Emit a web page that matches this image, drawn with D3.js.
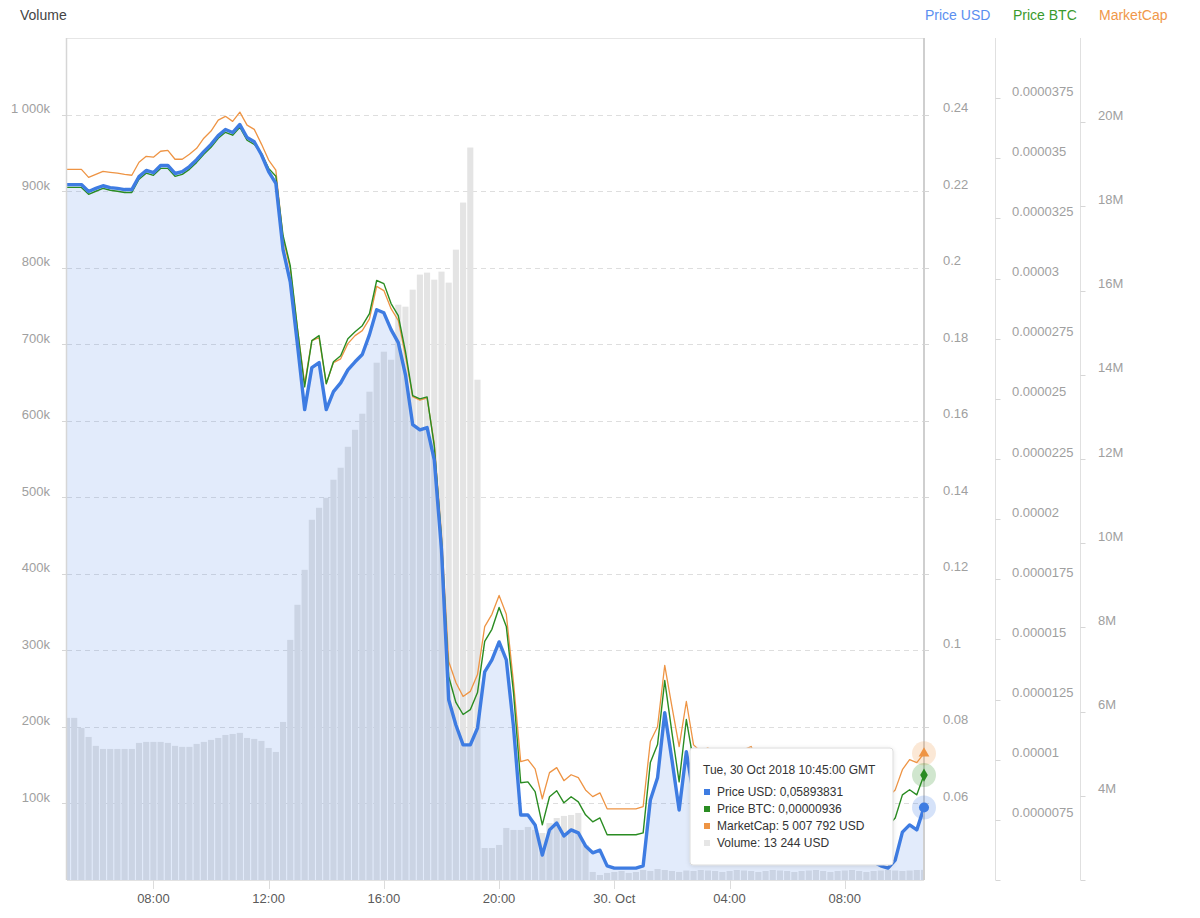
<!DOCTYPE html>
<html><head><meta charset="utf-8">
<script src="https://cdn.jsdelivr.net/npm/d3@7"></script>
<style>
html,body{margin:0;padding:0;background:#fff;}
svg{display:block;font-family:"Liberation Sans",Arial,Helvetica,sans-serif;}
</style></head><body>
<svg id="chart" width="1200" height="918"></svg>
<script>
// ---- data (15-minute steps starting 29 Oct 2018 05:00 GMT) ----
const startTime = "2018-10-29T05:00:00Z";
const stepMinutes = 15;

const priceUsd = [
 0.2217,0.2217,0.2217,0.2199,0.2207,0.2214,0.2209,0.2207,0.2204,0.2204,
 0.2238,0.2254,0.2248,0.2267,0.2267,0.2246,0.2251,0.2264,0.2282,0.2303,
 0.2322,0.2345,0.2361,0.2353,0.2374,0.2340,0.2329,0.2295,0.2251,0.2220,
 0.2047,0.1963,0.1799,0.1629,0.1739,0.1752,0.1629,0.1676,0.1699,0.1733,
 0.1754,0.1773,0.1825,0.1890,0.1882,0.1838,0.1804,0.1720,0.1590,0.1576,
 0.1582,0.1498,0.1263,0.0871,0.0805,0.0753,0.0753,0.0797,0.0944,0.0975,
 0.1022,0.0975,0.0800,0.0570,0.0570,0.0544,0.0465,0.0531,0.0549,0.0515,
 0.0531,0.0523,0.0489,0.0471,0.0478,0.0437,0.0431,0.0431,0.0431,0.0431,
 0.0437,0.0609,0.0667,0.0837,0.0714,0.0583,0.0735,0.0622,0.0578,0.0593,
 0.0562,0.0570,0.0552,0.0567,0.0583,0.0593,0.0557,0.0541,0.0525,0.0515,
 0.0520,0.0505,0.0510,0.0497,0.0489,0.0492,0.0478,0.0484,0.0473,0.0468,
 0.0465,0.0458,0.0447,0.0437,0.0431,0.0452,0.0525,0.0544,0.0531,0.05893831];

const priceBtc = [
 33.79e-6,33.79e-6,33.79e-6,33.50e-6,33.63e-6,33.75e-6,33.67e-6,33.63e-6,33.58e-6,33.58e-6,
 34.13e-6,34.38e-6,34.29e-6,34.58e-6,34.58e-6,34.25e-6,34.33e-6,34.54e-6,34.83e-6,35.17e-6,
 35.46e-6,35.83e-6,36.08e-6,35.96e-6,36.29e-6,35.75e-6,35.58e-6,35.21e-6,34.58e-6,34.25e-6,
 31.79e-6,30.54e-6,27.92e-6,25.50e-6,27.42e-6,27.63e-6,25.63e-6,26.54e-6,26.79e-6,27.50e-6,
 27.79e-6,28.04e-6,28.54e-6,29.92e-6,29.79e-6,28.96e-6,28.46e-6,26.96e-6,25.13e-6,25.00e-6,
 25.08e-6,23.04e-6,19.17e-6,13.46e-6,12.38e-6,11.88e-6,12.08e-6,12.79e-6,14.92e-6,15.42e-6,
 16.33e-6,15.54e-6,12.79e-6,9.04e-6,9.08e-6,8.67e-6,7.29e-6,8.46e-6,8.71e-6,8.21e-6,
 8.46e-6,8.25e-6,7.71e-6,7.42e-6,7.58e-6,6.88e-6,6.88e-6,6.88e-6,6.88e-6,6.88e-6,
 6.96e-6,9.88e-6,10.63e-6,13.29e-6,11.13e-6,9.08e-6,11.67e-6,9.92e-6,9.21e-6,9.46e-6,
 8.96e-6,9.17e-6,8.79e-6,9.04e-6,9.29e-6,9.46e-6,8.88e-6,8.63e-6,8.38e-6,8.21e-6,
 8.29e-6,8.04e-6,8.13e-6,7.92e-6,7.79e-6,7.83e-6,7.63e-6,7.71e-6,7.54e-6,7.46e-6,
 7.42e-6,7.33e-6,7.25e-6,7.25e-6,7.25e-6,7.58e-6,8.54e-6,8.75e-6,8.54e-6,9.36e-6];

const marketCap = [
 18.88e6,18.88e6,18.88e6,18.69e6,18.76e6,18.83e6,18.81e6,18.79e6,18.76e6,18.74e6,
 19.05e6,19.19e6,19.17e6,19.31e6,19.33e6,19.12e6,19.12e6,19.24e6,19.38e6,19.62e6,
 19.79e6,20.05e6,20.14e6,20.02e6,20.24e6,19.93e6,19.83e6,19.48e6,19.10e6,18.86e6,
 17.24e6,16.52e6,15.10e6,13.79e6,14.81e6,14.88e6,13.79e6,14.29e6,14.38e6,14.74e6,
 14.93e6,15.05e6,15.33e6,16.10e6,16.00e6,15.57e6,15.29e6,14.45e6,13.48e6,13.40e6,
 13.45e6,12.36e6,10.21e6,7.19e6,6.69e6,6.36e6,6.48e6,6.88e6,8.02e6,8.31e6,
 8.76e6,8.31e6,6.69e6,4.81e6,4.86e6,4.64e6,3.93e6,4.55e6,4.67e6,4.36e6,
 4.50e6,4.43e6,4.14e6,3.98e6,4.07e6,3.69e6,3.69e6,3.69e6,3.69e6,3.69e6,
 3.74e6,5.29e6,5.64e6,7.10e6,6.12e6,5.17e6,6.24e6,5.21e6,5.05e6,5.14e6,
 4.90e6,4.98e6,4.86e6,4.98e6,5.10e6,5.17e6,4.81e6,4.67e6,4.55e6,4.43e6,
 4.48e6,4.36e6,4.40e6,4.29e6,4.21e6,4.24e6,4.14e6,4.19e6,4.10e6,4.05e6,
 4.02e6,4.00e6,3.98e6,3.98e6,3.98e6,4.14e6,4.62e6,4.86e6,4.79e6,5007792];

const volume = [
 211.8e3,211.8e3,198.7e3,186.9e3,175.2e3,171.2e3,171.2e3,171.2e3,171.2e3,171.2e3,
 179.1e3,180.4e3,180.4e3,180.4e3,179.1e3,175.2e3,173.9e3,173.9e3,177.8e3,180.4e3,
 183.0e3,185.6e3,189.5e3,190.8e3,192.2e3,185.6e3,184.3e3,181.7e3,172.5e3,167.3e3,
 206.5e3,313.7e3,359.5e3,405.2e3,470.6e3,486.3e3,499.3e3,522.9e3,538.6e3,566.0e3,
 588.2e3,609.2e3,637.9e3,675.8e3,690.2e3,679.7e3,751.6e3,749.0e3,771.2e3,790.9e3,
 793.5e3,784.3e3,794.8e3,780.4e3,823.5e3,885.0e3,956.9e3,653.6e3,41.8e3,41.8e3,
 45.8e3,68.0e3,65.4e3,65.4e3,69.3e3,65.4e3,61.4e3,74.5e3,81.0e3,83.7e3,
 85.0e3,87.6e3,45.8e3,10.5e3,6.5e3,9.2e3,10.5e3,11.8e3,9.2e3,10.5e3,
 13.1e3,11.8e3,14.4e3,13.1e3,11.8e3,10.5e3,12.4e3,11.8e3,13.1e3,12.4e3,
 11.8e3,10.5e3,11.8e3,13.1e3,12.4e3,11.8e3,10.5e3,11.8e3,13.1e3,12.4e3,
 11.8e3,10.5e3,11.8e3,12.4e3,13.1e3,11.8e3,10.5e3,11.8e3,12.4e3,13.1e3,
 11.8e3,10.5e3,11.8e3,12.4e3,13.1e3,12.4e3,11.8e3,12.4e3,13.1e3,13244];

const volumeTicks = [100e3,200e3,300e3,400e3,500e3,600e3,700e3,800e3,900e3,1000e3];
const usdTicks = [0.06,0.08,0.1,0.12,0.14,0.16,0.18,0.2,0.22,0.24];
const btcTicks = [0.000005,0.0000075,0.00001,0.0000125,0.000015,0.0000175,0.00002,0.0000225,0.000025,0.0000275,0.00003,0.0000325,0.000035,0.0000375];
const btcTickLabels = ["","0.0000075","0.00001","0.0000125","0.000015","0.0000175","0.00002","0.0000225","0.000025","0.0000275","0.00003","0.0000325","0.000035","0.0000375"];
const mcapTicks = [2e6,4e6,6e6,8e6,10e6,12e6,14e6,16e6,18e6,20e6];
const seriesNames = ["Price USD","Price BTC","MarketCap","Volume"];
const tooltipTitle = "Tue, 30 Oct 2018 10:45:00 GMT";

// ---- layout ----
const L = 67, R = 924, T = 38, B = 880;
const C = {usd:"#3e7ce2", btc:"#2a8c22", mcap:"#ee9444", vol:"#e4e4e4",
           usdLbl:"#5b8ff0", btcLbl:"#3a9a2c", mcapLbl:"#f0984a"};

const t0 = new Date(startTime);
const times = priceUsd.map((d,i)=> new Date(t0.getTime() + i*stepMinutes*60000));

const svg = d3.select("#chart");
const x = d3.scaleUtc().domain([times[0], times[times.length-1]]).range([L, R]);
const yVol = d3.scaleLinear().domain([0, 1100e3]).range([B, T]);
const yUsd = d3.scaleLinear().domain([0.04, 0.26]).range([B, T]);
const yBtc = d3.scaleLinear().domain([0.000005, 0.00004]).range([B, T]);
const yMcap = d3.scaleLinear().domain([2e6, 22e6]).range([B, T]);

const defs = svg.append("defs");
defs.append("clipPath").attr("id","plot")
  .append("rect").attr("x",L).attr("y",T).attr("width",R-L).attr("height",B-T);
const shadow = defs.append("filter").attr("id","shadow")
  .attr("x","-10%").attr("y","-10%").attr("width","130%").attr("height","140%");
shadow.append("feDropShadow").attr("dx",0).attr("dy",1).attr("stdDeviation",2)
  .attr("flood-color","#000").attr("flood-opacity",0.12);

// frame
svg.append("line").attr("x1",L).attr("x2",R).attr("y1",T+0.5).attr("y2",T+0.5).attr("stroke","#e6e6e6");

// grid lines (volume ticks)
svg.append("g").selectAll("line").data(volumeTicks).join("line")
  .attr("x1",L).attr("x2",R+5).attr("y1",d=>Math.round(yVol(d))+0.5).attr("y2",d=>Math.round(yVol(d))+0.5)
  .attr("stroke","#dedede").attr("stroke-dasharray","5,4");

// volume columns
const colW = (x(times[1]) - x(times[0])) - 1.1;
svg.append("g").attr("clip-path","url(#plot)").selectAll("rect").data(volume).join("rect")
  .attr("x",(d,i)=> x(times[i]) - colW/2)
  .attr("width",colW)
  .attr("y",d=>yVol(d))
  .attr("height",d=>B - yVol(d))
  .attr("fill",C.vol);

// price usd area
svg.append("path").datum(priceUsd)
  .attr("clip-path","url(#plot)")
  .attr("d", d3.area().x((d,i)=>x(times[i])).y0(B).y1(d=>yUsd(d)))
  .attr("fill", C.usd).attr("fill-opacity",0.15);

// lines
function line(data, yS, color, w){
  svg.append("path").datum(data)
    .attr("d", d3.line().x((d,i)=>x(times[i])).y(d=>yS(d)))
    .attr("fill","none").attr("stroke",color).attr("stroke-width",w)
    .attr("stroke-linejoin","round");
}
line(marketCap, yMcap, C.mcap, 1.3);
line(priceBtc, yBtc, C.btc, 1.4);
line(priceUsd, yUsd, C.usd, 3.4);

// left axis
svg.append("line").attr("x1",L-0.5).attr("x2",L-0.5).attr("y1",T).attr("y2",B).attr("stroke","#d6d6d6").attr("stroke-width",1.5);
const vFmt = d=> d>=1e6 ? "1 000k" : (d/1000)+"k";
const gl = svg.append("g");
gl.selectAll("line").data(volumeTicks).join("line")
  .attr("x1",L-5).attr("x2",L).attr("y1",d=>Math.round(yVol(d))+0.5).attr("y2",d=>Math.round(yVol(d))+0.5).attr("stroke","#d6d6d6");
gl.selectAll("text").data(volumeTicks).join("text")
  .attr("x",50).attr("y",d=>yVol(d)-6).attr("dy","0.35em").attr("text-anchor","end")
  .attr("font-size",13).attr("fill","#a0a0a0").text(vFmt);

// bottom axis
svg.append("line").attr("x1",L).attr("x2",R).attr("y1",B+0.5).attr("y2",B+0.5).attr("stroke","#e2e2e2");
const xt = x.ticks(d3.utcHour.every(4));
const xFmt = d=> (d.getUTCHours()===0 ? d3.utcFormat("%-d. %b")(d) : d3.utcFormat("%H:%M")(d));
const gx = svg.append("g");
gx.selectAll("line").data(xt).join("line")
  .attr("x1",d=>Math.round(x(d))+0.5).attr("x2",d=>Math.round(x(d))+0.5).attr("y1",B).attr("y2",B+9).attr("stroke","#dcdcdc");
gx.selectAll("text").data(xt).join("text")
  .attr("x",d=>x(d)).attr("y",898).attr("dy","0.35em").attr("text-anchor","middle")
  .attr("font-size",13).attr("fill","#5a5a5a").text(xFmt);

// right axes
function rightAxis(ax, scale, ticks, labels, labelX, color, w){
  svg.append("line").attr("x1",ax).attr("x2",ax).attr("y1",T).attr("y2",B).attr("stroke",color).attr("stroke-width",w);
  const g = svg.append("g");
  g.selectAll("line").data(ticks).join("line")
    .attr("x1",ax).attr("x2",ax+5).attr("y1",d=>Math.round(scale(d))+0.5).attr("y2",d=>Math.round(scale(d))+0.5).attr("stroke","#d6d6d6");
  g.selectAll("text").data(ticks).join("text")
    .attr("x",labelX).attr("y",d=>scale(d)-7).attr("dy","0.35em")
    .attr("font-size",13).attr("fill","#a0a0a0").text((d,i)=>labels[i]);
}
rightAxis(R, yUsd, usdTicks, usdTicks.map(d=>String(d)), 943, "#cfcfcf", 2);
rightAxis(995.5, yBtc, btcTicks, btcTickLabels, 1012, "#e0e0e0", 1);
rightAxis(1080.5, yMcap, mcapTicks, mcapTicks.map(d=> d===2e6 ? "" : (d/1e6)+"M"), 1098, "#e0e0e0", 1);

// headers
svg.append("text").attr("x",20).attr("y",15).attr("dy","0.35em").attr("font-size",14).attr("fill","#444").text("Volume");
const heads = [[925,seriesNames[0],C.usdLbl],[1013,seriesNames[1],C.btcLbl],[1099,seriesNames[2],C.mcapLbl]];
svg.append("g").selectAll("text").data(heads).join("text")
  .attr("x",d=>d[0]).attr("y",15).attr("dy","0.35em").attr("font-size",14).attr("fill",d=>d[2]).text(d=>d[1]);

// hover markers at last point
const li = priceUsd.length-1, hx = x(times[li]);
const pts = [[yMcap(marketCap[li]),C.mcap,"tri"],[yBtc(priceBtc[li]),C.btc,"dia"],[yUsd(priceUsd[li]),C.usd,"cir"]];
pts.forEach(([py,col,shape])=>{
  svg.append("circle").attr("cx",hx).attr("cy",py).attr("r",12).attr("fill",col).attr("fill-opacity",0.22);
  const sym = shape==="tri"? d3.symbolTriangle : shape==="dia"? d3.symbolDiamond : d3.symbolCircle;
  const size = shape==="cir"? 80 : 50;
  svg.append("path").attr("d", d3.symbol(sym, size)()).attr("transform",`translate(${hx},${py})`)
    .attr("fill",col);
});

// tooltip
const tip = svg.append("g").attr("transform","translate(690,748)");
tip.append("rect").attr("width",203).attr("height",117).attr("rx",3)
  .attr("fill","#fff").attr("stroke","#dcdcdc").attr("filter","url(#shadow)");
tip.append("text").attr("x",13).attr("y",22).attr("dy","0.35em").attr("font-size",12).attr("fill","#333").text(tooltipTitle);
const dec8 = v => v.toFixed(8).replace(".",",");
const grp = v => d3.format(",")(Math.round(v)).replace(/,/g," ");
const rows = [
  [C.usd, `${seriesNames[0]}: ${dec8(priceUsd[li])}`],
  [C.btc, `${seriesNames[1]}: ${dec8(priceBtc[li])}`],
  [C.mcap, `${seriesNames[2]}: ${grp(marketCap[li])} USD`],
  ["#e6e6e6", `${seriesNames[3]}: ${grp(volume[li])} USD`]
];
rows.forEach((r,k)=>{
  const cy = 44 + k*17;
  tip.append("rect").attr("x",14).attr("y",cy-3).attr("width",6).attr("height",6).attr("fill",r[0]);
  tip.append("text").attr("x",27).attr("y",cy).attr("dy","0.35em").attr("font-size",12).attr("fill","#333").text(r[1]);
});
</script>
</body></html>
